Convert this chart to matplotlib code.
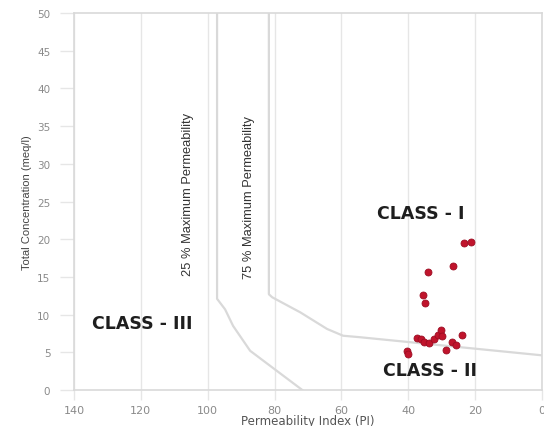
import matplotlib
matplotlib.use("Agg")
import matplotlib.pyplot as plt

#----Doneen classification data----
piValues = [23.3, 21.2, 26.6, 34.0, 35.5, 34.9, 37.3, 36.2, 35.2, 33.7, 32.2, 31.0,
            30.1, 29.9, 26.9, 25.7, 23.9, 28.6, 40.3, 40.0]
tcValues = [19.5, 19.6, 16.4, 15.6, 12.6, 11.5, 6.9, 6.7, 6.4, 6.2, 6.8, 7.3,
            8.0, 7.2, 6.4, 6.0, 7.3, 5.3, 5.2, 4.8]

# boundary curves
line25Pi = [97.2, 97.2, 94.8, 92.4, 87.3, 71.7]
line25Tc = [50, 12.1, 10.7, 8.5, 5.2, 0]
line75Pi = [81.7, 81.7, 80.7, 72.3, 64.3, 59.5, 54.4, 0]
line75Tc = [50, 12.7, 12.3, 10.3, 8.1, 7.2, 7.0, 4.6]

xTicks = [140, 120, 100, 80, 60, 40, 20, 0]
yTicks = [0, 5, 10, 15, 20, 25, 30, 35, 40, 45, 50]

fig = plt.figure(figsize=(5.44, 4.27), dpi=100)
ax = fig.add_axes([0.136, 0.0843, 0.8603, 0.8827])

gridColor = "#e6e6e6"
lineColor = "#d9d9d9"

for x in xTicks:
    ax.axvline(x, color=gridColor, linewidth=1.0, zorder=0)

ax.plot(line25Pi, line25Tc, color=lineColor, linewidth=1.6, zorder=1)
ax.plot(line75Pi, line75Tc, color=lineColor, linewidth=1.6, zorder=1)

ax.plot(piValues, tcValues, linestyle="none", marker="o", markersize=5,
        color="#c0142c", markeredgecolor="#9c0c22", markeredgewidth=0.6, zorder=3)

ax.set_xlim(140, 0)
ax.set_ylim(0, 50)
ax.set_xticks(xTicks)
ax.set_yticks(yTicks)

for spine in ax.spines.values():
    spine.set_color(lineColor)
    spine.set_linewidth(1.2)

ax.tick_params(axis="y", direction="out", length=10, width=1, color=gridColor,
               labelsize=7.5, labelcolor="#8a8a8a", pad=7)
ax.tick_params(axis="x", direction="out", length=7, width=1, color=gridColor,
               labelsize=8, labelcolor="#8a8a8a", pad=4)

ax.set_xlabel("Permeability Index (PI)", fontsize=8.5, color="#555555", labelpad=-1)
ax.set_ylabel("Total Concentration (meq/l)", fontsize=8, color="#444444",
              family="Liberation Sans", labelpad=4)

ax.text(106, 26.1, "25 % Maximum Permeability", rotation=90, ha="center", va="center",
        fontsize=9.3, family="Liberation Sans", color="#333333")
ax.text(87.5, 25.7, "75 % Maximum Permeability", rotation=90, ha="center", va="center",
        fontsize=9.3, family="Liberation Sans", color="#333333")

ax.text(36.4, 23.5, "CLASS - I", ha="center", va="center", fontsize=12.5,
        fontweight="bold", color="#1e1e1e")
ax.text(33.4, 2.65, "CLASS - II", ha="center", va="center", fontsize=12.5,
        fontweight="bold", color="#1e1e1e")
ax.text(119.7, 8.9, "CLASS - III", ha="center", va="center", fontsize=12.5,
        fontweight="bold", color="#1e1e1e")

fig.savefig("out.png", dpi=100)
